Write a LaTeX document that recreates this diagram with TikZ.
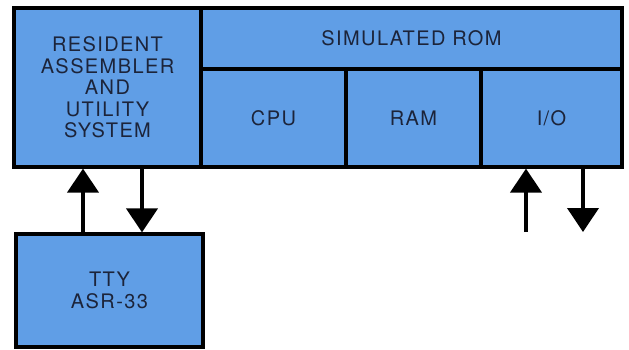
\documentclass[tikz,border=0pt]{standalone}
\usepackage{fontspec}
\setmainfont{TeX Gyre Heros}[LetterSpace=7]
\usetikzlibrary{arrows.meta}
\definecolor{unitblue}{RGB}{96,158,230}
\definecolor{inkdark}{RGB}{28,36,58}
\begin{document}
\begin{tikzpicture}[
    x=1pt, y=-1pt,
    unit/.style={rectangle, draw=black, line width=3.2pt, fill=unitblue, align=center, text=inkdark, inner sep=0pt,
                 font=\fontsize{20}{21.5}\selectfont},
    arrow/.style={line width=4pt, -{Triangle[width=31pt, length=24pt]}}
]
    \useasboundingbox (0,0) rectangle (629,350);
    \node[unit, minimum width=187pt, minimum height=159pt] (res) at (107.5,87.5) {RESIDENT\\ASSEMBLER\\AND\\UTILITY\\SYSTEM};
    \node[unit, minimum width=421pt, minimum height=61pt] (rom) at (411.5,38.5) {SIMULATED ROM};
    \node[unit, minimum width=145pt, minimum height=98pt] (cpu) at (273.5,118) {CPU};
    \node[unit, minimum width=135pt, minimum height=98pt] (ram) at (413.5,118) {RAM};
    \node[unit, minimum width=141pt, minimum height=98pt] (io) at (551.5,118) {I/O};
    \node[unit, minimum width=187pt, minimum height=113pt] (tty) at (109.5,290.5) {TTY\\ASR-33};
    \coordinate (ttyin) at (83,0);
    \coordinate (ttyout) at (142,0);
    \coordinate (ioin) at (526,232);
    \coordinate (ioout) at (583,232);
    \draw[arrow] (tty.north -| ttyin) -- (res.south -| ttyin);
    \draw[arrow] (res.south -| ttyout) -- (tty.north -| ttyout);
    \draw[arrow] (ioin) -- (io.south -| ioin);
    \draw[arrow] (io.south -| ioout) -- (ioout);
\end{tikzpicture}
\end{document}
